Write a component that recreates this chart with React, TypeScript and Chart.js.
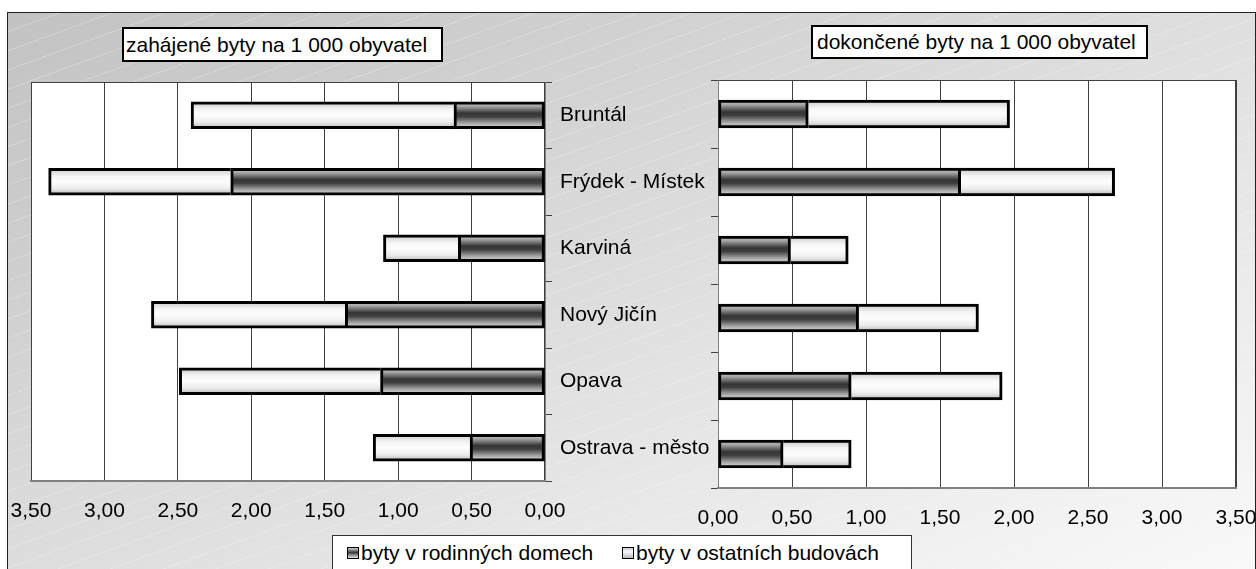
import React, { useEffect, useRef } from "react";
import { Chart, registerables } from "chart.js";

Chart.register(...registerables);

const categories = ["Bruntál", "Frýdek - Místek", "Karviná", "Nový Jičín", "Opava", "Ostrava - město"];
const startedFamily = [0.62, 2.14, 0.59, 1.36, 1.12, 0.51];
const startedOther = [1.79, 1.24, 0.51, 1.32, 1.37, 0.66];
const completedFamily = [0.61, 1.64, 0.49, 0.95, 0.9, 0.44];
const completedOther = [1.36, 1.04, 0.39, 0.81, 1.02, 0.46];
const seriesLabels = ["byty v rodinných domech", "byty v ostatních budovách"];
const titleStarted = "zahájené byty na 1 000 obyvatel";
const titleCompleted = "dokončené byty na 1 000 obyvatel";
const axisMin = 0;
const axisMax = 3.5;
const axisStep = 0.5;

const FONT = "'Liberation Sans', Arial, sans-serif";

function fmt(v: number) {
  return Number(v).toFixed(2).replace(".", ",");
}

function gradientFill(kind: "dark" | "light", thickness: number) {
  return (ctx: any) => {
    const chart = ctx.chart;
    const ys = chart.scales && chart.scales.y;
    if (ctx.type !== "data" || !ys || !chart.chartArea) return kind === "dark" ? "#555" : "#f2f2f2";
    const c = ys.getPixelForValue(ctx.dataIndex);
    const g = chart.ctx.createLinearGradient(0, c - thickness / 2, 0, c + thickness / 2);
    if (kind === "dark") {
      g.addColorStop(0, "#d4d4d4");
      g.addColorStop(0.18, "#a0a0a0");
      g.addColorStop(0.42, "#363636");
      g.addColorStop(0.55, "#3e3e3e");
      g.addColorStop(0.8, "#a8a8a8");
      g.addColorStop(1, "#e4e4e4");
    } else {
      g.addColorStop(0, "#c8c8c8");
      g.addColorStop(0.3, "#f6f6f6");
      g.addColorStop(0.5, "#fdfdfd");
      g.addColorStop(0.75, "#ececec");
      g.addColorStop(1, "#b4b4b4");
    }
    return g;
  };
}

const plotArea = {
  id: "plotArea",
  beforeDraw(chart: any) {
    const { ctx, chartArea: a } = chart;
    ctx.save();
    ctx.fillStyle = "#ffffff";
    ctx.fillRect(a.left, a.top, a.width, a.height);
    ctx.strokeStyle = "#404040";
    ctx.lineWidth = 1;
    ctx.strokeRect(a.left + 0.5, a.top + 0.5, a.width - 1, a.height - 1);
    ctx.restore();
  },
};

function makeConfig(opts: {
  family: number[];
  other: number[];
  reverse: boolean;
  thickness: number;
  padding: any;
  xHeight: number;
  yWidth: number;
  yPos: "left" | "right";
  showLabels: boolean;
}) {
  const { family, other, reverse, thickness } = opts;
  return {
    type: "bar" as const,
    data: {
      labels: categories,
      datasets: [
        {
          label: seriesLabels[0],
          data: family,
          backgroundColor: gradientFill("dark", thickness),
          borderColor: "#000",
          borderWidth: 3,
          borderSkipped: false,
          barThickness: thickness,
        },
        {
          label: seriesLabels[1],
          data: other,
          backgroundColor: gradientFill("light", thickness),
          borderColor: "#000",
          borderWidth: 3,
          borderSkipped: "start",
          barThickness: thickness,
        },
      ],
    },
    options: {
      indexAxis: "y" as const,
      animation: false as const,
      responsive: false,
      layout: { padding: opts.padding },
      plugins: { legend: { display: false }, tooltip: { enabled: false }, title: { display: false } },
      scales: {
        x: {
          type: "linear" as const,
          reverse,
          stacked: true,
          min: axisMin,
          max: axisMax,
          ticks: {
            stepSize: axisStep,
            callback: (v: any) => fmt(v),
            color: "#000",
            font: { family: FONT, size: 21 },
            padding: 18,
            maxRotation: 0,
          },
          grid: { color: "#404040", lineWidth: 1, drawTicks: false },
          border: { color: "#808080", width: 2 },
          afterFit(s: any) {
            s.height = opts.xHeight;
            s.paddingLeft = 0;
            s.paddingRight = 0;
          },
        },
        y: {
          type: "category" as const,
          position: opts.yPos,
          stacked: true,
          grid: { offset: true, drawOnChartArea: false, tickLength: 7, color: "#404040", lineWidth: 1 },
          border: { color: "#808080", width: 1 },
          ticks: {
            display: opts.showLabels,
            crossAlign: "near" as const,
            padding: 8,
            color: "#000",
            font: { family: FONT, size: 21 },
          },
          afterFit(s: any) {
            s.width = opts.yWidth;
            s.paddingTop = 0;
            s.paddingBottom = 0;
          },
        },
      },
    },
    plugins: [plotArea],
  };
}

const titleStyle: React.CSSProperties = {
  position: "absolute",
  boxSizing: "border-box",
  border: "2px solid #000",
  background: "#fff",
  fontFamily: FONT,
  fontSize: 21,
  color: "#000",
  whiteSpace: "nowrap",
  display: "flex",
  alignItems: "center",
};

const swatchBase: React.CSSProperties = {
  position: "absolute",
  top: 11,
  width: 12,
  height: 12,
  boxSizing: "border-box",
  border: "1.5px solid #000",
};

export default function App() {
  const leftRef = useRef<HTMLCanvasElement>(null);
  const rightRef = useRef<HTMLCanvasElement>(null);

  useEffect(() => {
    Chart.defaults.font.family = FONT;
    const left = new Chart(
      leftRef.current as HTMLCanvasElement,
      makeConfig({
        family: startedFamily,
        other: startedOther,
        reverse: true,
        thickness: 27,
        padding: { left: 31, top: 82, right: 0, bottom: 0 },
        xHeight: 569 - 481,
        yWidth: 720 - 545,
        yPos: "right",
        showLabels: true,
      }) as any
    );
    const right = new Chart(
      rightRef.current as HTMLCanvasElement,
      makeConfig({
        family: completedFamily,
        other: completedOther,
        reverse: false,
        thickness: 28,
        padding: { left: 0, top: 80, right: 20, bottom: 0 },
        xHeight: 569 - 488,
        yWidth: 28,
        yPos: "left",
        showLabels: false,
      }) as any
    );
    return () => {
      left.destroy();
      right.destroy();
    };
  }, []);

  return (
    <div
      style={{
        position: "fixed",
        left: 0,
        top: 0,
        width: 1256,
        height: 569,
        overflow: "hidden",
        background: "#fff",
        fontFamily: FONT,
      }}
    >
      <div
        style={{
          position: "absolute",
          left: 7,
          top: 12,
          width: 1249,
          height: 600,
          boxSizing: "border-box",
          border: "1px solid #222",
          background:
            "repeating-linear-gradient(160deg, rgba(255,255,255,0) 0px, rgba(255,255,255,0) 17px, rgba(255,255,255,0.22) 17px, rgba(255,255,255,0.22) 18px), linear-gradient(to bottom right, #c2c2c2 0%, #dcdcdc 45%, #fbfbfb 100%)",
        }}
      />
      <canvas
        ref={leftRef}
        width={720}
        height={569}
        style={{ position: "absolute", left: 0, top: 0, width: 720, height: 569 }}
      />
      <canvas
        ref={rightRef}
        width={566}
        height={569}
        style={{ position: "absolute", left: 690, top: 0, width: 566, height: 569 }}
      />
      <div style={{ ...titleStyle, left: 122, top: 27, width: 321, height: 35, paddingLeft: 2 }}>{titleStarted}</div>
      <div style={{ ...titleStyle, left: 811, top: 25, width: 337, height: 34, paddingLeft: 4 }}>{titleCompleted}</div>
      <div
        style={{
          position: "absolute",
          left: 332,
          top: 535,
          width: 580,
          height: 60,
          boxSizing: "border-box",
          border: "1px solid #333",
          background: "#fff",
          fontFamily: FONT,
          fontSize: 21,
          color: "#000",
          whiteSpace: "nowrap",
        }}
      >
        <div
          style={{
            ...swatchBase,
            left: 14,
            background: "linear-gradient(to bottom, #d0d0d0, #3a3a3a 45%, #a8a8a8 80%, #e0e0e0)",
          }}
        />
        <span style={{ position: "absolute", left: 28, top: 5, lineHeight: "24px" }}>{seriesLabels[0]}</span>
        <div
          style={{
            ...swatchBase,
            left: 289,
            background: "linear-gradient(to bottom, #d0d0d0, #fafafa 40%, #b8b8b8)",
          }}
        />
        <span style={{ position: "absolute", left: 303, top: 5, lineHeight: "24px" }}>{seriesLabels[1]}</span>
      </div>
    </div>
  );
}
